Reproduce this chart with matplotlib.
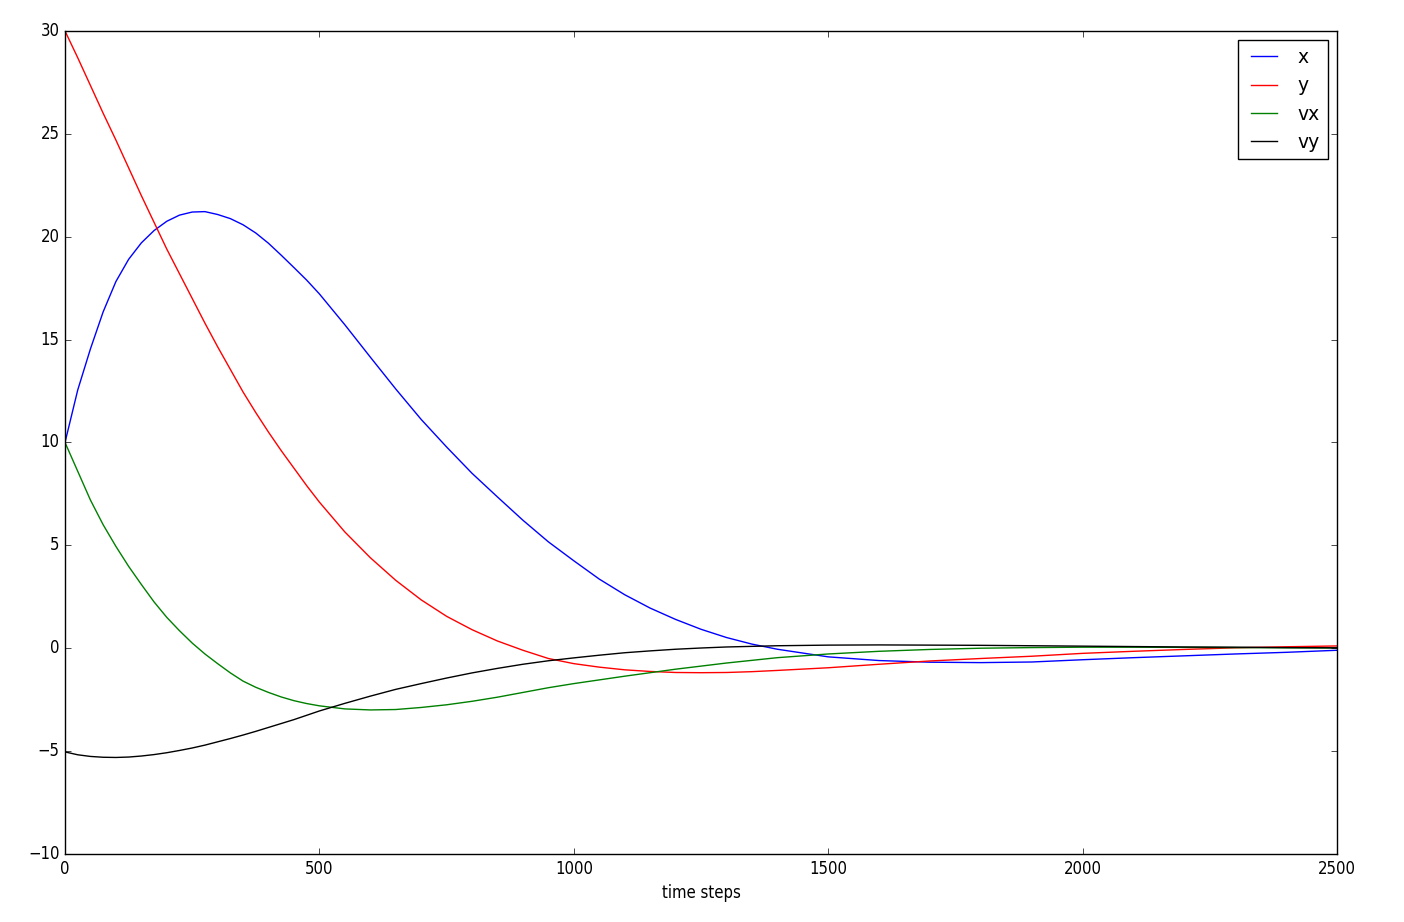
import matplotlib
matplotlib.use('Agg')
import matplotlib.pyplot as plt

plt.style.use('classic')

t = [0, 25, 50, 75, 100, 125, 150, 175, 200, 225, 250, 275, 300, 325, 350,
     375, 400, 425, 450, 475, 500, 550, 600, 650, 700, 750, 800, 850, 900,
     950, 1000, 1050, 1100, 1150, 1200, 1250, 1300, 1350, 1400, 1500, 1600,
     1700, 1800, 1900, 2000, 2100, 2200, 2300, 2400, 2500]

x = [10.0, 12.55, 14.55, 16.35, 17.82, 18.9, 19.7, 20.3, 20.75, 21.05, 21.2,
     21.22, 21.08, 20.88, 20.58, 20.18, 19.68, 19.1, 18.5, 17.89, 17.22,
     15.72, 14.15, 12.6, 11.12, 9.78, 8.5, 7.35, 6.22, 5.17, 4.25, 3.36,
     2.6, 1.95, 1.4, 0.92, 0.52, 0.2, -0.05, -0.42, -0.6, -0.68, -0.7,
     -0.67, -0.56, -0.46, -0.37, -0.28, -0.2, -0.1]

y = [30.0, 28.7, 27.35, 26.0, 24.7, 23.35, 22.0, 20.7, 19.4, 18.2, 17.0,
     15.8, 14.65, 13.55, 12.45, 11.45, 10.5, 9.6, 8.75, 7.9, 7.1, 5.65, 4.4,
     3.3, 2.35, 1.55, 0.9, 0.35, -0.1, -0.5, -0.75, -0.92, -1.05, -1.13,
     -1.18, -1.19, -1.18, -1.14, -1.08, -0.95, -0.78, -0.62, -0.5, -0.39,
     -0.25, -0.15, -0.06, 0.02, 0.07, 0.11]

vx = [10.0, 8.6, 7.2, 6.0, 4.95, 3.98, 3.1, 2.25, 1.5, 0.85, 0.25, -0.28,
      -0.75, -1.2, -1.6, -1.9, -2.15, -2.37, -2.55, -2.69, -2.8, -2.95,
      -3.0, -2.98, -2.88, -2.75, -2.58, -2.38, -2.15, -1.92, -1.72, -1.54,
      -1.36, -1.19, -1.02, -0.87, -0.72, -0.59, -0.46, -0.28, -0.15, -0.06,
      0.0, 0.03, 0.05, 0.05, 0.04, 0.03, 0.02, 0.01]

vy = [-5.04, -5.18, -5.26, -5.3, -5.31, -5.29, -5.24, -5.17, -5.08, -4.97,
      -4.85, -4.71, -4.55, -4.39, -4.22, -4.04, -3.85, -3.66, -3.47, -3.26,
      -3.05, -2.68, -2.33, -2.0, -1.72, -1.45, -1.2, -0.98, -0.78, -0.61,
      -0.47, -0.34, -0.22, -0.13, -0.05, 0.01, 0.06, 0.09, 0.12, 0.15, 0.16,
      0.15, 0.14, 0.12, 0.1, 0.08, 0.06, 0.05, 0.03, 0.02]

fig = plt.figure(figsize=(14.04, 9.22), dpi=100, facecolor='w')
ax = fig.add_axes([0.0463, 0.0738, 0.906, 0.8926])
ax.plot(t, x, 'b-', label='x')
ax.plot(t, y, 'r-', label='y')
ax.plot(t, vx, 'g-', label='vx')
ax.plot(t, vy, 'k-', label='vy')

ax.set_xlim(0, 2500)
ax.set_ylim(-10, 30)
ax.set_xlabel('time steps', fontstretch='condensed')
for lab in ax.get_xticklabels() + ax.get_yticklabels():
    lab.set_fontstretch('condensed')
ax.legend(loc=1, fontsize=13.5)

plt.savefig('out.png', dpi=100, facecolor='w')
